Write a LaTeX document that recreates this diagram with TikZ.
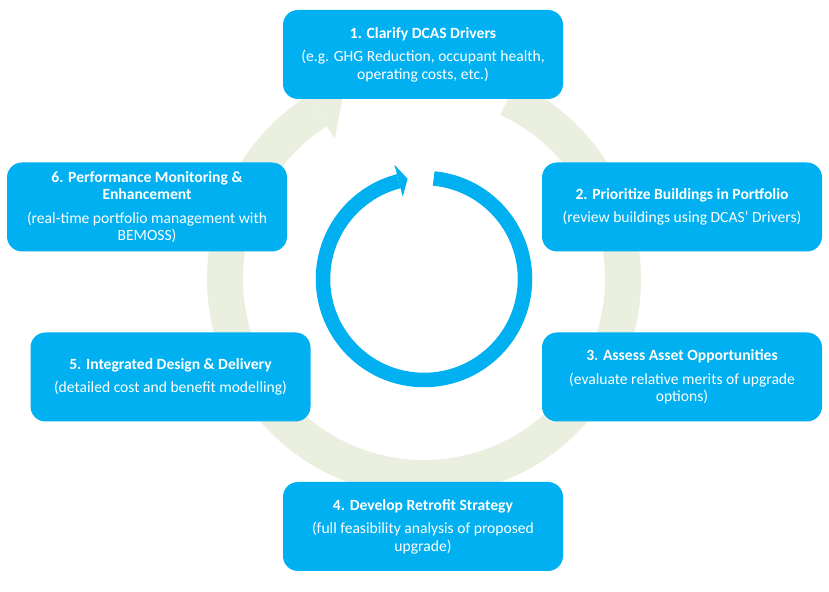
\documentclass[tikz,border=0pt]{standalone}
\usepackage{fontspec}
\setmainfont{Carlito}
\usetikzlibrary{calc}
\definecolor{stepblue}{HTML}{00B0F0}
\definecolor{ringgreen}{HTML}{EBEFE0}
\begin{document}
\begin{tikzpicture}[x=1pt,y=1pt,
  stepbox/.style={rectangle, rounded corners=15pt, fill=stepblue, text=white,
    minimum width=280pt, minimum height=89pt, inner sep=0pt,
    align=center, font=\fontsize{15.6}{17.5}\selectfont}]
\useasboundingbox (0,0) rectangle (829,591);
\coordinate (C) at (424,312);

% large pale cycle ring with its arrowhead
\draw[ringgreen, line width=36pt] ($(C)+(65:199)$) arc[start angle=65, end angle=-237.5, radius=199];
\fill[ringgreen] ($(C)+(122.5:233)$) -- ($(C)+(114:200)$) -- ($(C)+(122.5:166)$) -- cycle;

% small blue cycle arrow in the middle
\draw[stepblue, line width=14.5pt] ($(C)+(84.5:101)$) arc[start angle=84.5, end angle=-255.5, radius=101];
\fill[stepblue] ($(C)+(104.5:118)$) -- ($(C)+(99.3:101.5)$) -- ($(C)+(104.5:85)$) -- cycle;

% process steps
\node[stepbox] (s1) at (423,536.5) {\textbf{1. Clarify DCAS Drivers}\\[6pt](e.g. GHG Reduction, occupant health,\\operating costs, etc.)};
\node[stepbox] (s2) at (682,384) {\textbf{2. Prioritize Buildings in Portfolio}\\[6pt](review buildings using DCAS’ Drivers)};
\node[stepbox] (s3) at (682,214) {\textbf{3. Assess Asset Opportunities}\\[6pt](evaluate relative merits of upgrade\\options)};
\node[stepbox] (s4) at (423,64.5) {\textbf{4. Develop Retrofit Strategy}\\[6pt](full feasibility analysis of proposed\\upgrade)};
\node[stepbox] (s5) at (170.5,214) {\textbf{5. Integrated Design \& Delivery}\\[6pt](detailed cost and benefit modelling)};
\node[stepbox] (s6) at (147,384) {\textbf{6. Performance Monitoring \&}\\\textbf{Enhancement}\\[6pt](real-time portfolio management with\\BEMOSS)};
\end{tikzpicture}
\end{document}
